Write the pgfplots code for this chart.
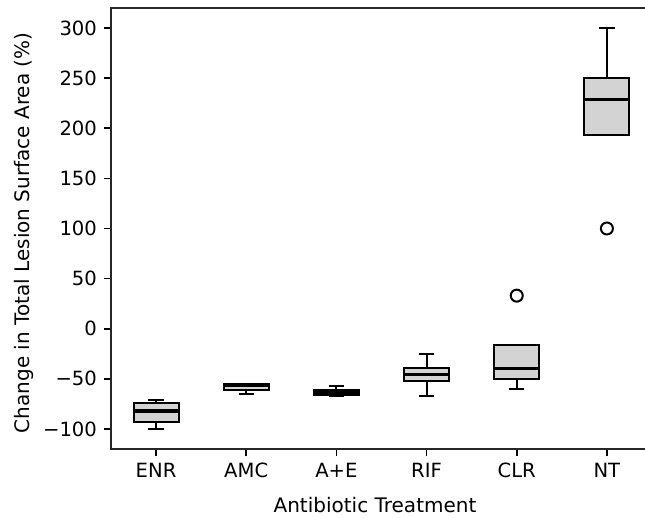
\documentclass[border=0pt]{standalone}
\usepackage{fontspec}
\setmainfont{DejaVu Sans}
\usepackage{pgfplots}
\pgfplotsset{compat=1.18}
\definecolor{boxgray}{RGB}{211,211,211}
\begin{document}
\begin{tikzpicture}
\begin{axis}[
  scale only axis, width=270.5pt, height=220.5pt,
  xmin=0.5, xmax=6.5, ymin=-120, ymax=320,
  xtick={1,2,3,4,5,6}, xticklabels={ENR,AMC,A+E,RIF,CLR,NT},
  ytick={-100,-50,0,50,100,150,200,250,300},
  yticklabels={−100,−50,0,50,100,150,200,250,300},
  tick align=outside, xtick pos=lower, ytick pos=left,
  major tick length=3.5pt,
  tick style={black, line width=0.8pt},
  axis line style={line width=0.8pt, black!85},
  ticklabel style={font=\fontsize{9.8}{11}\selectfont},
  label style={font=\fontsize{10}{12}\selectfont},
  xlabel={Antibiotic Treatment},
  ylabel={Change in Total Lesion Surface Area (\%)},
  xlabel style={at={(axis description cs:0.488,-0.127)}, anchor=center},
  ylabel style={at={(axis description cs:-0.161,0.49)}, anchor=center},
  wh/.style={black, line width=1pt},
  bx/.style={black, line width=1pt, fill=boxgray},
  md/.style={black, line width=1.6pt},
]
% ENR: lw -100, q1 -93, med -82, q3 -74, uw -71
\addplot[wh] coordinates {(1,-93) (1,-100)};
\addplot[wh] coordinates {(1,-74) (1,-71)};
\addplot[wh] coordinates {(0.915,-100) (1.085,-100)};
\addplot[wh] coordinates {(0.915,-71) (1.085,-71)};
\addplot[bx] coordinates {(0.75,-93) (1.25,-93) (1.25,-74) (0.75,-74)} -- cycle;
\addplot[md] coordinates {(0.75,-82) (1.25,-82)};
% AMC: lw -65, q1 -61, med -57, q3 -55, uw -55
\addplot[wh] coordinates {(2,-61) (2,-65)};
\addplot[wh] coordinates {(1.915,-65) (2.085,-65)};
\addplot[wh] coordinates {(1.915,-55) (2.085,-55)};
\addplot[bx] coordinates {(1.75,-61) (2.25,-61) (2.25,-55) (1.75,-55)} -- cycle;
\addplot[md] coordinates {(1.75,-57) (2.25,-57)};
% A+E: lw -67, q1 -66, med -64, q3 -61, uw -57
\addplot[wh] coordinates {(3,-66) (3,-67)};
\addplot[wh] coordinates {(3,-61) (3,-57)};
\addplot[wh] coordinates {(2.915,-67) (3.085,-67)};
\addplot[wh] coordinates {(2.915,-57) (3.085,-57)};
\addplot[bx] coordinates {(2.75,-66) (3.25,-66) (3.25,-61) (2.75,-61)} -- cycle;
\addplot[md] coordinates {(2.75,-64) (3.25,-64)};
% RIF: lw -67, q1 -52, med -46, q3 -39, uw -25
\addplot[wh] coordinates {(4,-52) (4,-67)};
\addplot[wh] coordinates {(4,-39) (4,-25)};
\addplot[wh] coordinates {(3.915,-67) (4.085,-67)};
\addplot[wh] coordinates {(3.915,-25) (4.085,-25)};
\addplot[bx] coordinates {(3.75,-52) (4.25,-52) (4.25,-39) (3.75,-39)} -- cycle;
\addplot[md] coordinates {(3.75,-46) (4.25,-46)};
% CLR: lw -60, q1 -50, med -40, q3 -16, uw -16
\addplot[wh] coordinates {(5,-50) (5,-60)};
\addplot[wh] coordinates {(4.915,-60) (5.085,-60)};
\addplot[wh] coordinates {(4.915,-16) (5.085,-16)};
\addplot[bx] coordinates {(4.75,-50) (5.25,-50) (5.25,-16) (4.75,-16)} -- cycle;
\addplot[md] coordinates {(4.75,-40) (5.25,-40)};
% NT: lw 193, q1 193, med 229, q3 250, uw 300
\addplot[wh] coordinates {(6,250) (6,300)};
\addplot[wh] coordinates {(5.915,193) (6.085,193)};
\addplot[wh] coordinates {(5.915,300) (6.085,300)};
\addplot[bx] coordinates {(5.75,193) (6.25,193) (6.25,250) (5.75,250)} -- cycle;
\addplot[md] coordinates {(5.75,229) (6.25,229)};
% outliers
\addplot[only marks, mark=o, mark size=3pt, black, line width=1pt] coordinates {(5,33) (6,100)};
\coordinate (SW) at (rel axis cs:0,0);
\coordinate (NW) at (rel axis cs:0,1);
\end{axis}
\pgfresetboundingbox
\useasboundingbox ([xshift=-55.5pt,yshift=-34.5pt]SW) rectangle ([xshift=267pt,yshift=4pt]NW);
\end{tikzpicture}
\end{document}
